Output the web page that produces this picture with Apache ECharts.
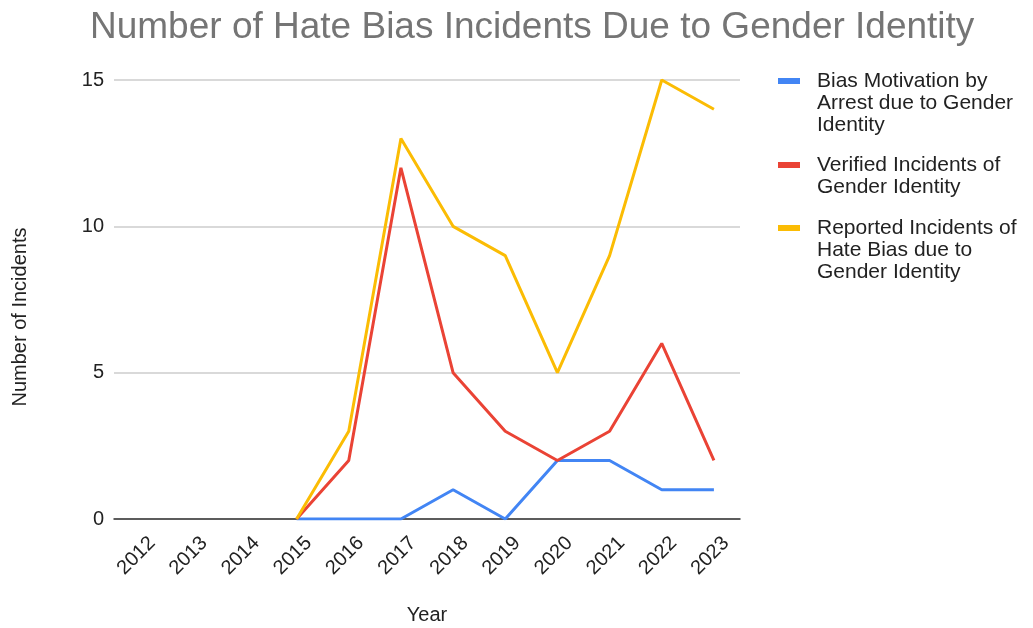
<!DOCTYPE html>
<html>
<head>
<meta charset="utf-8">
<title>Number of Hate Bias Incidents Due to Gender Identity</title>
<script src="https://cdn.jsdelivr.net/npm/echarts@6/dist/echarts.min.js"></script>
<style>
  html, body { margin: 0; padding: 0; background: #ffffff; }
  #chart { width: 1033px; height: 628px; }
</style>
</head>
<body>
<div id="chart"></div>
<script>
// Years on the category axis
const years = ['2012', '2013', '2014', '2015', '2016', '2017', '2018', '2019', '2020', '2021', '2022', '2023'];

// Series values per year (null = no data recorded)
const arrestIncidents   = [null, null, null, 0, 0, 0, 1, 0, 2, 2, 1, 1];
const verifiedIncidents = [null, null, null, 0, 2, 12, 5, 3, 2, 3, 6, 2];
const reportedIncidents = [null, null, null, 0, 3, 13, 10, 9, 5, 9, 15, 14];

// Series names and their wrapped legend labels
const seriesNames = [
  'Bias Motivation by Arrest due to Gender Identity',
  'Verified Incidents of Gender Identity',
  'Reported Incidents of Hate Bias due to Gender Identity'
];
const legendLines = [
  ['Bias Motivation by', 'Arrest due to Gender', 'Identity'],
  ['Verified Incidents of', 'Gender Identity'],
  ['Reported Incidents of', 'Hate Bias due to', 'Gender Identity']
];

const colors = ['#4285F4', '#EA4335', '#FBBC04'];
const FONT = 'Arial, "Liberation Sans", sans-serif';
const LINE_H = 22;
const legendIconCenters = [81, 165, 228];

// One legend per series; blank leading lines keep the swatch level with the
// first text line (legend text is always centred on its swatch)
const legends = seriesNames.map((name, i) => {
  const n = legendLines[i].length;
  const blanks = new Array(n - 1).fill('');
  return {
    show: true,
    orient: 'vertical',
    left: 778,
    top: legendIconCenters[i] - (n - 1) * LINE_H - LINE_H / 2,
    padding: 0,
    itemWidth: 22,
    itemHeight: 6,
    icon: 'rect',
    data: [name],
    selectedMode: false,
    formatter: () => blanks.concat(legendLines[i]).join('\n'),
    textStyle: {
      fontFamily: FONT,
      fontSize: 21,
      lineHeight: LINE_H,
      color: '#222222',
      padding: [0, 0, 0, 12]
    }
  };
});

const chart = echarts.init(document.getElementById('chart'), null, { renderer: 'canvas' });

chart.setOption({
  backgroundColor: '#ffffff',
  animation: false,
  color: colors,
  title: {
    text: 'Number of Hate Bias Incidents Due to Gender Identity',
    left: 85,
    top: 4,
    textStyle: {
      fontFamily: FONT,
      fontSize: 37,
      fontWeight: 'normal',
      color: '#757575'
    }
  },
  legend: legends,
  grid: {
    left: 114,
    right: 1033 - 740,
    top: 80,
    bottom: 628 - 519,
    containLabel: false,
    outerBoundsMode: 'none'
  },
  graphic: [{
    type: 'text',
    x: 20,
    y: 317,
    rotation: Math.PI / 2,
    style: {
      text: 'Number of Incidents',
      fontFamily: FONT,
      fontSize: 20,
      fill: '#222222',
      align: 'center',
      verticalAlign: 'middle'
    }
  }],
  xAxis: {
    type: 'category',
    data: years,
    boundaryGap: true,
    name: 'Year',
    nameLocation: 'middle',
    nameGap: 86,
    nameTextStyle: { fontFamily: FONT, fontSize: 20, color: '#222222' },
    axisLine: { show: true, lineStyle: { color: '#333333', width: 1.5 } },
    axisTick: { show: false },
    axisLabel: {
      rotate: 45,
      margin: 9,
      verticalAlign: 'top',
      lineHeight: 34,
      fontFamily: FONT,
      fontSize: 20,
      color: '#222222',
      interval: 0
    },
    splitLine: { show: false }
  },
  yAxis: {
    type: 'value',
    min: 0,
    max: 15,
    interval: 5,
    axisLine: { show: false },
    axisTick: { show: false },
    axisLabel: {
      margin: 10,
      fontFamily: FONT,
      fontSize: 20,
      color: '#222222'
    },
    splitLine: { show: true, lineStyle: { color: '#cccccc', width: 1.5 } }
  },
  series: [
    { name: seriesNames[0], type: 'line', data: arrestIncidents, showSymbol: false, lineStyle: { width: 3 }, z: 3 },
    { name: seriesNames[1], type: 'line', data: verifiedIncidents, showSymbol: false, lineStyle: { width: 3 }, z: 4 },
    { name: seriesNames[2], type: 'line', data: reportedIncidents, showSymbol: false, lineStyle: { width: 3 }, z: 5 }
  ]
});
</script>
</body>
</html>
